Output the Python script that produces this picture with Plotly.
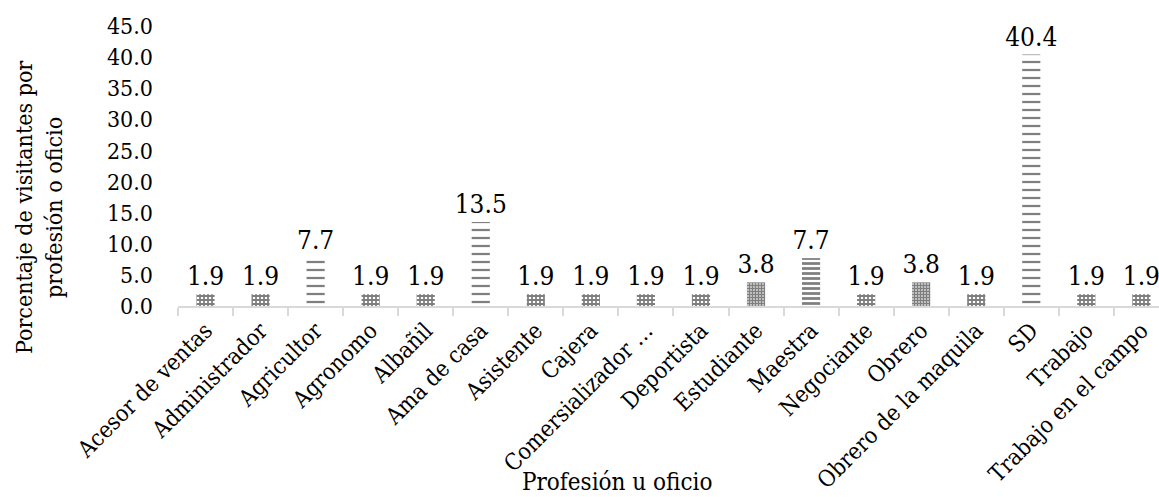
import plotly.graph_objects as go

categories = ["Acesor de ventas", "Administrador", "Agricultor", "Agronomo", "Albañil",
              "Ama de casa", "Asistente", "Cajera", "Comersializador …", "Deportista",
              "Estudiante", "Maestra", "Negociante", "Obrero", "Obrero de la maquila",
              "SD", "Trabajo", "Trabajo en el campo"]
values = [1.9, 1.9, 7.7, 1.9, 1.9, 13.5, 1.9, 1.9, 1.9, 1.9, 3.8, 7.7, 1.9, 3.8, 1.9, 40.4, 1.9, 1.9]
y_ticks = [0, 5, 10, 15, 20, 25, 30, 35, 40, 45]

FONT = "DejaVu Serif Condensed, DejaVu Serif"
GRAY = "#7f7f7f"

# pattern style per category
style_of = {"Agricultor": "hline", "Ama de casa": "hline", "SD": "hline",
            "Maestra": "thick", "Estudiante": "dense", "Obrero": "dense"}
styles = {"grid": ("+", 4, 0.7), "dense": ("+", 3, 0.8),
          "hline": ("-", 8, 0.28), "thick": ("-", 5, 0.55)}
shapes, sizes, solid = [], [], []
for c in categories:
    s = styles[style_of.get(c, "grid")]
    shapes.append(s[0]); sizes.append(s[1]); solid.append(s[2])

fig = go.Figure(go.Bar(
    x=categories, y=values, width=0.33,
    marker=dict(color="white", line=dict(width=0),
                pattern=dict(shape=shapes, size=sizes, solidity=solid,
                             fgcolor=GRAY, bgcolor="white", fillmode="replace")),
    texttemplate="%{y:.1f}", textposition="outside", constraintext="none",
    textangle=0, cliponaxis=False,
    textfont=dict(family=FONT, size=26, color="black"),
))

W, H = 1159, 497
L, T, B = 178, 26, 191
plot_w = W - L
cat_px = 55.05
fig.update_layout(
    width=W, height=H, margin=dict(l=L, r=0, t=T, b=B, pad=0),
    paper_bgcolor="white", plot_bgcolor="white", showlegend=False,
    font=dict(family=FONT, size=23, color="black"),
    xaxis=dict(type="category", range=[-0.5, -0.5 + plot_w / cat_px],
               showline=True, linecolor="#d9d9d9", linewidth=2,
               ticks="outside", tickson="boundaries", ticklen=8, tickcolor="#d9d9d9",
               tickwidth=2, tickangle=-45, showgrid=False,
               tickfont=dict(family=FONT, size=23, color="black")),
    yaxis=dict(range=[0, 45], tickvals=y_ticks, tickformat=".1f", showgrid=False,
               showline=False, zeroline=False, ticks="", ticklabelstandoff=24,
               tickfont=dict(family=FONT, size=23, color="black")),
    annotations=[
        dict(text="Porcentaje de visitantes por<br>profesión o oficio", textangle=-90,
             xref="paper", yref="paper", x=(39 - L) / plot_w, y=(306 - 208) / 280,
             xanchor="center", yanchor="middle", showarrow=False, align="center",
             font=dict(family=FONT, size=23, color="black")),
        dict(text="Profesión u oficio", xref="paper", yref="paper",
             x=(617 - L) / plot_w, y=(306 - 482) / 280, xanchor="center", yanchor="middle",
             showarrow=False, font=dict(family=FONT, size=24, color="black")),
    ],
)

fig.write_html("out.html")
